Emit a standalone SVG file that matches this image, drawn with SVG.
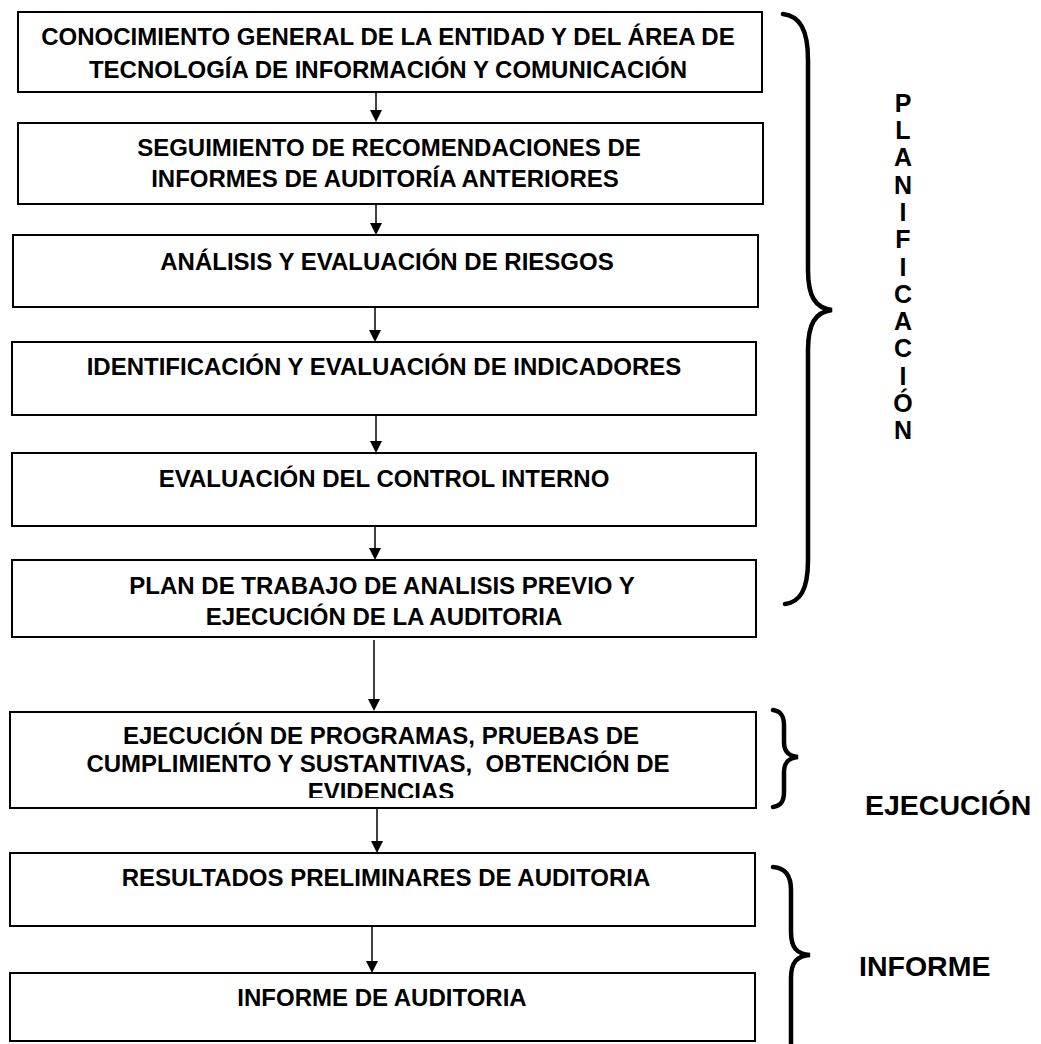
<svg xmlns="http://www.w3.org/2000/svg" width="1041" height="1044" viewBox="0 0 1041 1044">
<style>
.box{fill:#fff;stroke:#000;stroke-width:2}
.t{font-family:"Liberation Sans",Arial,sans-serif;font-weight:bold;font-size:24px;fill:#000;text-anchor:middle}
.lbl{font-family:"Liberation Sans",Arial,sans-serif;font-weight:bold;font-size:28.5px;fill:#000}
.v{font-family:"Liberation Sans",Arial,sans-serif;font-weight:bold;font-size:25px;fill:#000;text-anchor:middle}
.c{stroke:#000;stroke-width:1.5;fill:none}
.brace{fill:none;stroke:#000;stroke-width:4.5;stroke-linecap:round}
</style>
<defs>
<clipPath id="clip7"><rect x="10" y="712" width="746" height="86"/></clipPath>
</defs>
<g id="connectors">
<line class="c" x1="376" y1="93" x2="376" y2="110"/><polygon points="370,110 382,110 376,122"/>
<line class="c" x1="376" y1="205" x2="376" y2="223"/><polygon points="370,223 382,223 376,235"/>
<line class="c" x1="375" y1="308" x2="375" y2="330"/><polygon points="369,330 381,330 375,342"/>
<line class="c" x1="376" y1="416" x2="376" y2="441"/><polygon points="370,441 382,441 376,453"/>
<line class="c" x1="375" y1="527" x2="375" y2="548"/><polygon points="369,548 381,548 375,560"/>
<line class="c" x1="374" y1="640" x2="374" y2="699"/><polygon points="368,699 380,699 374,711"/>
<line class="c" x1="377" y1="803" x2="377" y2="841"/><polygon points="371,841 383,841 377,853"/>
<line class="c" x1="372" y1="927" x2="372" y2="961"/><polygon points="366,961 378,961 372,973"/>
</g>
<g id="n1"><rect class="box" x="18" y="12" width="744" height="80"/>
<text class="t" x="388" y="45">CONOCIMIENTO GENERAL DE LA ENTIDAD Y DEL ÁREA DE</text>
<text class="t" x="388" y="78">TECNOLOGÍA DE INFORMACIÓN Y COMUNICACIÓN</text></g>
<g id="n2"><rect class="box" x="18" y="123" width="745" height="81"/>
<text class="t" x="389" y="156">SEGUIMIENTO DE RECOMENDACIONES DE</text>
<text class="t" x="385" y="187">INFORMES DE AUDITORÍA ANTERIORES</text></g>
<g id="n3"><rect class="box" x="13" y="235" width="745" height="72"/>
<text class="t" x="387" y="270">ANÁLISIS Y EVALUACIÓN DE RIESGOS</text></g>
<g id="n4"><rect class="box" x="12" y="342" width="744" height="73"/>
<text class="t" x="384" y="375">IDENTIFICACIÓN Y EVALUACIÓN DE INDICADORES</text></g>
<g id="n5"><rect class="box" x="12" y="453" width="744" height="73"/>
<text class="t" x="384" y="487">EVALUACIÓN DEL CONTROL INTERNO</text></g>
<g id="n6"><rect class="box" x="12" y="560" width="744" height="77"/>
<text class="t" x="382" y="594">PLAN DE TRABAJO DE ANALISIS PREVIO Y</text>
<text class="t" x="384" y="625">EJECUCIÓN DE LA AUDITORIA</text></g>
<g id="n7"><rect class="box" x="10" y="712" width="746" height="96"/>
<g clip-path="url(#clip7)">
<text class="t" x="381" y="744">EJECUCIÓN DE PROGRAMAS, PRUEBAS DE</text>
<text class="t" x="378" y="772" xml:space="preserve">CUMPLIMIENTO Y SUSTANTIVAS,  OBTENCIÓN DE</text>
<text class="t" x="381" y="800">EVIDENCIAS</text></g></g>
<g id="n8"><rect class="box" x="10" y="853" width="745" height="73"/>
<text class="t" x="386" y="886">RESULTADOS PRELIMINARES DE AUDITORIA</text></g>
<g id="n9"><rect class="box" x="10" y="973" width="745" height="68"/>
<text class="t" x="382" y="1006">INFORME DE AUDITORIA</text></g>
<g id="planificacion">
<path class="brace" d="M783,14 C800,16 808,30 808,60 L808,270 C808,296 815,308 832,310 C815,312 808,324 808,350 L808,560 C808,590 800,602 785,604"/>
<text class="v" x="903" y="112">P</text>
<text class="v" x="903" y="139">L</text>
<text class="v" x="903" y="166">A</text>
<text class="v" x="903" y="194">N</text>
<text class="v" x="903" y="221">I</text>
<text class="v" x="903" y="248">F</text>
<text class="v" x="903" y="276">I</text>
<text class="v" x="903" y="303">C</text>
<text class="v" x="903" y="330">A</text>
<text class="v" x="903" y="357">C</text>
<text class="v" x="903" y="385">I</text>
<text class="v" x="903" y="412">Ó</text>
<text class="v" x="903" y="439">N</text>
</g>
<g id="ejecucion">
<path class="brace" d="M773,710 C781,711 784,716 784,726 L784,742 C784,751 788,756 798,757 C788,758 784,763 784,772 L784,792 C784,801 781,806 773,807"/>
<text class="lbl" x="865" y="815">EJECUCIÓN</text>
</g>
<g id="informe">
<path class="brace" d="M773,867 C785,868 791,875 791,890 L791,932 C791,948 797,954 810,955 C797,956 791,962 791,978 L791,1050"/>
<text class="lbl" x="859" y="976">INFORME</text>
</g>
</svg>
